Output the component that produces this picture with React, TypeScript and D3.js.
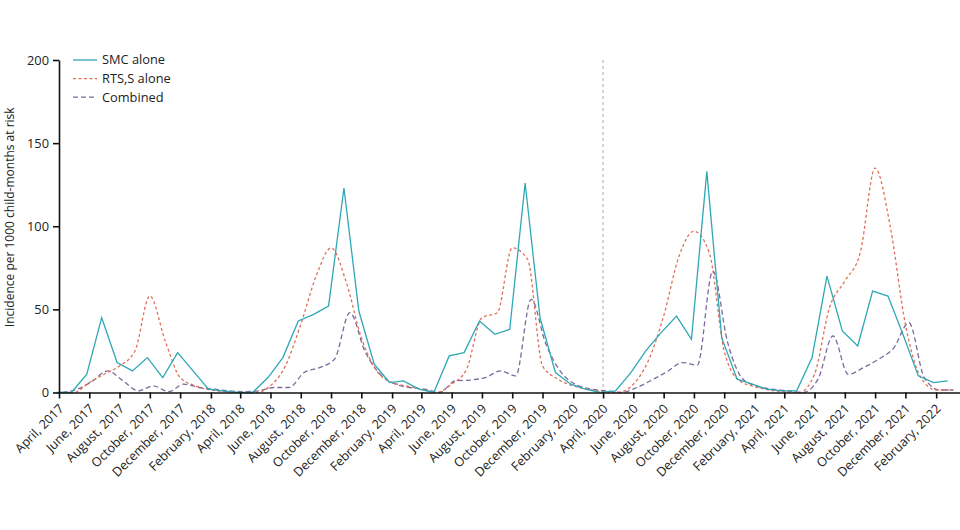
import * as React from "react";
import * as d3 from "d3";

// monthly incidence per 1000 child-months, April 2017 .. March 2022
const smcAlone = [
  0, 0, 11, 45, 18, 13, 21, 9, 24, 13, 2, 1,
  0, 0, 9, 21, 43, 47, 52, 123, 49, 17, 6, 7,
  2, 0, 22, 24, 43, 35, 38, 126, 45, 12, 5, 2,
  0, 1, 12, 25, 36, 46, 32, 133, 33, 8, 5, 2,
  1, 1, 21, 70, 37, 28, 61, 58, 35, 10, 6, 7,
];
const rtssAlone = [
  0, 0, 6, 11, 16, 25, 58, 31, 9, 4, 1.5, 0.5,
  0, 0, 4, 16, 41, 70, 87, 66, 33, 13, 6, 4,
  2, 0, 5, 14, 45, 48, 87, 80, 16, 8, 4, 2,
  0.5, 0, 5, 19, 46, 82, 97, 84, 25, 7, 3.5, 1.5,
  0.5, 0, 11, 51, 67, 84, 135, 99, 41, 9, 1.5, 1.5,
];
const combined = [
  0, 2, 7, 13, 7, 1, 4, 0.5, 5, 3, 2, 1,
  0.5, 1, 3, 3, 12, 15, 20, 48, 25, 11, 5, 3,
  2, 0, 7, 7.5, 9, 13, 10, 56, 29, 12, 4.5, 2,
  1, 0, 3, 7.5, 12.5, 18, 16.5, 73, 30, 8, 3.5, 2,
  1, 0, 8, 34, 11, 15, 20, 27, 42, 9, 1.5, 1.5,
];
const yTicks = [0, 50, 100, 150, 200];
const months = d3.timeMonth.range(new Date(2017, 3, 1), new Date(2022, 3, 1));
const tickMonths = months.filter((d, i) => i % 2 === 0);
const cutoverMonth = new Date(2020, 3, 1);

const series = [
  { name: "SMC alone", values: smcAlone, color: "#2ea8b6", dash: null, shiftDays: -5 },
  { name: "RTS,S alone", values: rtssAlone, color: "#e0705a", dash: "3,2.5", shiftDays: 0 },
  { name: "Combined", values: combined, color: "#7d6a9c", dash: "5,3", shiftDays: 7 },
];

const width = 960;
const height = 530;
const margin = { top: 60, right: 0, bottom: 137.5, left: 59 };

export default function App() {
  const ref = React.useRef<SVGSVGElement>(null);

  React.useEffect(() => {
    const svg = d3.select(ref.current);
    svg.selectAll("*").remove();

    const x = d3
      .scaleTime()
      .domain([new Date(2017, 3, 1), new Date(2022, 2, 21)])
      .range([margin.left, width - margin.right]);
    const y = d3
      .scaleLinear()
      .domain([0, 200])
      .range([height - margin.bottom, margin.top]);

    const font = "'Open Sans', sans-serif";

    // vertical marker at April 2020
    svg
      .append("line")
      .attr("x1", x(cutoverMonth))
      .attr("x2", x(cutoverMonth))
      .attr("y1", y(200))
      .attr("y2", y(0))
      .attr("stroke", "#aaaaaa")
      .attr("stroke-width", 1)
      .attr("stroke-dasharray", "3,3");

    const line = (shift: number, curve: d3.CurveFactory) =>
      d3
        .line<number>()
        .x((d, i) => x(d3.timeDay.offset(months[i], shift)))
        .y((d) => y(d))
        .curve(curve);

    series
      .slice()
      .reverse()
      .forEach((s) => {
        svg
          .append("path")
          .datum(s.values)
          .attr("fill", "none")
          .attr("stroke", s.color)
          .attr("stroke-width", 1.3)
          .attr("stroke-dasharray", s.dash)
          .attr("d", line(s.shiftDays, s.dash ? d3.curveMonotoneX : d3.curveLinear));
      });

    // axes
    const xAxis = svg
      .append("g")
      .attr("transform", `translate(0,${y(0)})`)
      .call(
        d3
          .axisBottom(x)
          .tickValues(tickMonths)
          .tickSize(6)
          .tickSizeOuter(0)
          .tickFormat(d3.timeFormat("%B, %Y") as any)
      );
    xAxis.select(".domain").attr("stroke", "#111").attr("stroke-width", 1.6);
    xAxis.selectAll(".tick line").attr("stroke", "#111").attr("stroke-width", 1.6);
    xAxis
      .selectAll(".tick text")
      .attr("font-family", font)
      .attr("font-size", 12.6)
      .attr("fill", "#222")
      .attr("text-anchor", "end")
      .attr("y", 0)
      .attr("dy", 0)
      .attr("transform", "translate(5,17) rotate(-45)");

    const yAxis = svg
      .append("g")
      .attr("transform", `translate(${margin.left},0)`)
      .call(d3.axisLeft(y).tickValues(yTicks).tickSize(6).tickSizeOuter(0));
    yAxis.select(".domain").attr("stroke", "#111").attr("stroke-width", 1.6);
    yAxis.selectAll(".tick line").attr("stroke", "#111").attr("stroke-width", 1.6);
    yAxis
      .selectAll(".tick text")
      .attr("font-family", font)
      .attr("font-size", 12.8)
      .attr("fill", "#222")
      .attr("x", -10);

    svg
      .append("text")
      .attr("transform", `translate(14,${(y(0) + y(200)) / 2 - 9}) rotate(-90)`)
      .attr("text-anchor", "middle")
      .attr("font-family", font)
      .attr("font-size", 12)
      .attr("fill", "#222")
      .text("Incidence per 1000 child-months at risk");

    // legend
    const legend = svg
      .selectAll(".legend")
      .data(series)
      .enter()
      .append("g")
      .attr("class", "legend")
      .attr("transform", (d, i) => `translate(73,${60 + i * 18.6})`);
    legend
      .append("line")
      .attr("x1", 0)
      .attr("x2", 24)
      .attr("stroke", (d) => d.color)
      .attr("stroke-width", 1.3)
      .attr("stroke-dasharray", (d) => d.dash);
    legend
      .append("text")
      .attr("x", 29)
      .attr("dy", "0.35em")
      .attr("font-family", font)
      .attr("font-size", 12.8)
      .attr("fill", "#222")
      .text((d) => d.name);
  }, []);

  return (
    <svg
      ref={ref}
      width={width}
      height={height}
      style={{ position: "absolute", left: 0, top: 0, background: "white" }}
    />
  );
}
